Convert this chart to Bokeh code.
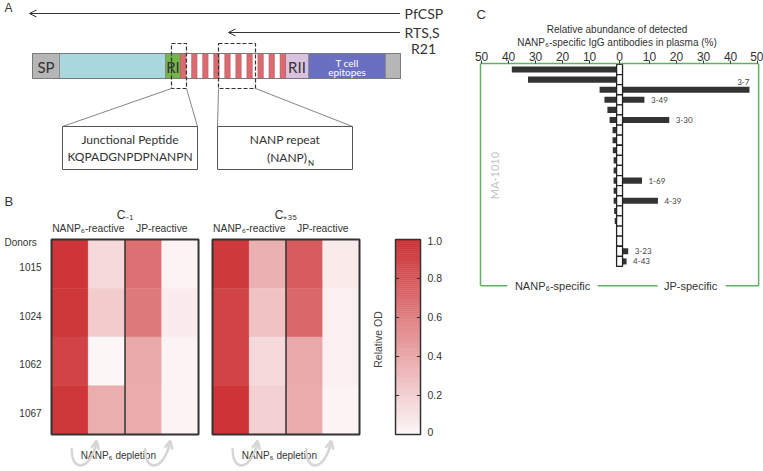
import numpy as np
from bokeh.plotting import figure
from bokeh.layouts import row, column
from bokeh.models import Range1d, FixedTicker, ColumnDataSource, Arrow, OpenHead
from bokeh.transform import linear_cmap
from bokeh.core.properties import value
from bokeh.embed import file_html
from bokeh.resources import INLINE

# ---------------- data ----------------
# Panel A: PfCSP domain schematic (lengths in schematic units)
domain_labels = ["SP", "", "RI", "", "RII", "", ""]
domain_lengths = [27, 106, 15, 105, 23, 77, 15]
domain_colors = ["#b6b6b6", "#a9d7de", "#74b54b", "#ffffff", "#d8c2df", "#6a6fc2", "#b6b6b6"]
repeat_units = 10
constructs = ["PfCSP", "RTS,S"]
construct_start = [-3, 196]

# Panel B: relative OD heatmaps
donors = ["1015", "1024", "1062", "1067"]
timepoints = ["C\u208b\u2081", "C\u208a\u2083\u2085"]
reactivities = ["NANP\u2086-reactive", "JP-reactive"]
od_c_minus1 = [[0.97, 0.15, 0.68, 0.03],
               [0.96, 0.22, 0.63, 0.06],
               [0.90, 0.01, 0.40, 0.02],
               [0.96, 0.37, 0.38, 0.03]]
od_c_plus35 = [[0.95, 0.36, 0.78, 0.07],
               [0.90, 0.27, 0.72, 0.05],
               [0.90, 0.15, 0.40, 0.05],
               [0.98, 0.20, 0.38, 0.02]]
cbar_ticks = [0.0, 0.2, 0.4, 0.6, 0.8, 1.0]
cbar_tick_labels = ["0", "0.2", "0.4", "0.6", "0.8", "1.0"]

# Panel C: relative abundance (%) per antibody row
nanp_specific = [38.8, 32.8, 6.3, 4.5, 3.4, 2.6, 1.5, 1.5, 1.4, 1.1,
                 1.1, 1.1, 1.1, 1.1, 0.9, 0.7, 0.0, 0.0, 0.0, 0.0]
jp_specific = [0.0, 0.0, 47.0, 8.1, 0.0, 17.3, 0.0, 0.0, 0.0, 0.0,
               0.0, 7.2, 0.0, 13.1, 0.0, 0.0, 0.0, 0.0, 2.1, 1.5]
jp_labels = ["", "", "3-7", "3-49", "", "3-30", "", "", "", "",
             "", "1-69", "", "4-39", "", "", "", "", "3-23", "4-43"]
axis_values = [50, 40, 30, 20, 10]

# ---------------- styles ----------------
DARK = "#333333"
GREEN = "#62b162"
ARIAL = value("Liberation Sans")
MYRIAD = value("Lato")


def lerp_palette(c0, c1, n):
    a = np.array([int(c0[i:i + 2], 16) for i in (1, 3, 5)], float)
    b = np.array([int(c1[i:i + 2], 16) for i in (1, 3, 5)], float)
    out = []
    for t in np.linspace(0, 1, n):
        c = np.round(a + (b - a) * t).astype(int)
        out.append("#%02x%02x%02x" % tuple(c))
    return out


palette = lerp_palette("#fdf8f8", "#cc3033", 256)


def clean(p):
    p.grid.visible = False
    p.outline_line_color = None
    p.background_fill_color = "white"
    p.border_fill_color = "white"


# ---------------- Panel A ----------------
pa = figure(width=470, height=190, x_range=Range1d(-32, 438), y_range=Range1d(190, 0),
            x_axis_type=None, y_axis_type=None, output_backend="svg",
            toolbar_location=None, min_border=0)
clean(pa)

ends = np.cumsum(domain_lengths).astype(float)
starts = ends - np.array(domain_lengths)
BT, BB = 53, 78
pa.quad(left=starts, right=ends, top=BT, bottom=BB, fill_color=domain_colors,
        line_color="#8a8a8a", line_width=1)
rs, rl = starts[3], domain_lengths[3]
sw = 5.5
period = (rl - sw) / (repeat_units - 1)
rlefts = rs + period * np.arange(repeat_units)
pa.quad(left=rlefts, right=rlefts + sw, top=BT, bottom=BB, fill_color="#dc6b71",
        line_color="#b05a5e", line_width=0.5)
pa.quad(left=[0], right=[ends[-1]], top=BT, bottom=BB, fill_color=None,
        line_color="#7a7a7a", line_width=1)

mids = (starts + ends) / 2
lab_idx = [i for i, l in enumerate(domain_labels) if l]
pa.text(x=[mids[i] for i in lab_idx], y=[66] * len(lab_idx), text=[domain_labels[i] for i in lab_idx],
        text_font=MYRIAD, text_font_size="15px", text_color=DARK,
        text_align="center", text_baseline="middle")
pa.text(x=[mids[5], mids[5]], y=[62, 71], text=["T cell", "epitopes"], text_font=MYRIAD,
        text_font_size="10px", text_color="white", text_align="center", text_baseline="middle")

# constructs arrows
for k, (name, st) in enumerate(zip(constructs, construct_start)):
    yy = 13 + 19 * k
    pa.add_layout(Arrow(end=OpenHead(size=7, line_color=DARK, line_width=1),
                        x_start=ends[-1] - 0.5, y_start=yy, x_end=st, y_end=yy,
                        line_color=DARK, line_width=1))
    pa.text(x=[ends[-1] + 4], y=[yy], text=[name], text_font=MYRIAD, text_font_size="14px",
            text_color=DARK, text_align="left", text_baseline="middle")
pa.text(x=[391], y=[48], text=["R21"], text_font=MYRIAD, text_font_size="14px",
        text_color=DARK, text_align="center", text_baseline="middle")

# dashed zoom boxes
dash_l = [139, 186]
dash_r = [154, 223]
pa.quad(left=dash_l, right=dash_r, top=43, bottom=88, fill_color=None,
        line_color=DARK, line_width=1.2, line_dash="4 2")
box_l = [30, 185]
box_r = [165, 320]
pa.segment(x0=[dash_l[0], dash_r[0], dash_l[1], dash_r[1]], y0=[88] * 4,
           x1=[box_l[0], box_r[0], box_l[1], box_r[1]], y1=[126] * 4,
           line_color="#666666", line_width=0.8)
pa.quad(left=box_l, right=box_r, top=126, bottom=169, fill_color="white",
        line_color="#555555", line_width=1)
bc = [(a + b) / 2 for a, b in zip(box_l, box_r)]
pa.text(x=[bc[0], bc[0], bc[1]], y=[139, 156, 139],
        text=["Junctional Peptide", "KQPADGNPDPNANPN", "NANP repeat"],
        text_font=MYRIAD, text_font_size="12px", text_color=DARK,
        text_align="center", text_baseline="middle")
pa.text(x=[bc[1] + 22], y=[157], text=["(NANP)"], text_font=MYRIAD, text_font_size="12px",
        text_color=DARK, text_align="right", text_baseline="middle")
pa.text(x=[bc[1] + 23], y=[162], text=["N"], text_font=MYRIAD, text_font_size="8px",
        text_color=DARK, text_align="left", text_baseline="middle")
pa.text(x=[-28], y=[7], text=["A"], text_font=ARIAL, text_font_size="12px",
        text_color=DARK, text_align="left", text_baseline="middle")

# ---------------- Panel B ----------------
pb = figure(width=470, height=281, x_range=Range1d(-1.388, 11.40), y_range=Range1d(4.759, -1.005),
            x_axis_type=None, y_axis_type=None, output_backend="svg",
            toolbar_location=None, min_border=0)
clean(pb)
HM_STEP = 4.38
cmap = linear_cmap("v", palette, 0, 1)
for h, (tp, mat) in enumerate(zip(timepoints, [od_c_minus1, od_c_plus35])):
    off = h * HM_STEP
    xs, ys, vs = [], [], []
    for i in range(len(donors)):
        for j in range(4):
            xs.append(off + j + 0.5)
            ys.append(i + 0.5)
            vs.append(mat[i][j])
    src = ColumnDataSource(dict(x=xs, y=ys, v=vs))
    pb.rect("x", "y", 1, 1, source=src, fill_color=cmap, line_color=cmap, line_width=0.5)
    pb.quad(left=[off], right=[off + 4], top=0, bottom=len(donors), fill_color=None,
            line_color=DARK, line_width=2)
    pb.segment(x0=[off + 2], y0=[0], x1=[off + 2], y1=[len(donors)], line_color=DARK, line_width=1.5)
    pb.text(x=[off + 2], y=[-0.51], text=[tp], text_font=ARIAL, text_font_size="12px",
            text_color=DARK, text_align="center", text_baseline="middle")
    pb.text(x=[off + 1, off + 3], y=[-0.22, -0.22], text=reactivities, text_font=ARIAL,
            text_font_size="10.3px", text_color=DARK, text_align="center", text_baseline="middle")
    pb.text(x=[off + 1.82], y=[4.43], text=["NANP\u2086 depletion"], text_font=ARIAL,
            text_font_size="10px", text_color=DARK, text_align="center", text_baseline="middle")
    for j in (0, 2):
        x0 = off + j + 0.55
        x1 = off + j + 1.23
        pb.bezier(x0=[x0], y0=[4.28], x1=[x1], y1=[4.13], cx0=[x0 - 0.02], cy0=[4.8],
                  cx1=[x1 - 0.15], cy1=[4.75], line_color="#d6d6d6", line_width=2.5)
        pb.add_layout(Arrow(end=OpenHead(size=8, line_color="#d6d6d6", line_width=2.5),
                            x_start=x1 - 0.05, y_start=4.3, x_end=x1, y_end=4.13,
                            line_color="#d6d6d6", line_width=2.5))

pb.text(x=[-1.28], y=[0.07], text=["Donors"], text_font=ARIAL, text_font_size="10px",
        text_color=DARK, text_align="left", text_baseline="middle")
pb.text(x=[-0.27] * len(donors), y=[i + 0.56 for i in range(len(donors))], text=donors,
        text_font=ARIAL, text_font_size="10px", text_color=DARK,
        text_align="right", text_baseline="middle")
pb.text(x=[-1.28], y=[-0.78], text=["B"], text_font=ARIAL, text_font_size="13px",
        text_color=DARK, text_align="left", text_baseline="middle")

# colour bar
CB_L, CB_R = 9.36, 10.04
NB = 100
edges = np.linspace(0, 1, NB + 1)
cb_src = ColumnDataSource(dict(top=4 * (1 - edges[1:]), bottom=4 * (1 - edges[:-1]),
                               v=(edges[1:] + edges[:-1]) / 2))
pb.quad(left=CB_L, right=CB_R, top="top", bottom="bottom", source=cb_src,
        fill_color=cmap, line_color=cmap, line_width=0.5)
pb.quad(left=[CB_L], right=[CB_R], top=0, bottom=4, fill_color=None, line_color=DARK, line_width=1.5)
inner = [t for t in cbar_ticks if 0 < t < 1]
pb.segment(x0=[CB_L] * len(inner) + [CB_R - 0.1] * len(inner), y0=[4 * (1 - t) for t in inner] * 2,
           x1=[CB_L + 0.1] * len(inner) + [CB_R] * len(inner), y1=[4 * (1 - t) for t in inner] * 2,
           line_color=DARK, line_width=1)
pb.text(x=[10.23] * len(cbar_ticks), y=[4 * (1 - t) + (0.04 if t == 1 else (-0.06 if t == 0 else 0)) for t in cbar_ticks],
        text=cbar_tick_labels, text_font=ARIAL, text_font_size="10.5px", text_color=DARK,
        text_align="left", text_baseline="middle")
pb.text(x=[8.87], y=[2.05], text=["Relative OD"], angle=np.pi / 2, text_font=ARIAL,
        text_font_size="10.5px", text_color="#444444", text_align="center", text_baseline="middle")

# ---------------- Panel C ----------------
GAP = 1.1
nrow = len(nanp_specific)
rows = np.arange(nrow)
pc = figure(width=293, height=471, x_range=Range1d(-55.2, 53.3), y_range=Range1d(39.8, -0.594),
            x_axis_location="above", y_axis_type=None, output_backend="svg",
            toolbar_location=None, min_border_top=63, min_border_left=0,
            min_border_right=0, min_border_bottom=0, title="C")
clean(pc)
ticks = [-(v + GAP) for v in axis_values] + [0] + [v + GAP for v in axis_values[::-1]]
labels = [str(v) for v in axis_values] + ["0"] + [str(v) for v in axis_values[::-1]]
ax = pc.xaxis[0]
ax.ticker = FixedTicker(ticks=ticks)
ax.major_label_overrides = {t: l for t, l in zip(ticks, labels)}
ax.bounds = (-51.5, 51.5)
ax.axis_line_color = GREEN
ax.axis_line_width = 1.5
ax.major_tick_line_color = DARK
ax.major_tick_out = 3
ax.major_tick_in = 0
ax.minor_tick_line_color = None
ax.major_label_text_font = "Liberation Sans"
ax.major_label_text_font_size = "12px"
ax.major_label_text_color = DARK
ax.major_label_text_line_height = 1.0
ax.major_label_standoff = 0
ax.axis_label = "Relative abundance of detected\nNANP\u2086-specific IgG antibodies in plasma (%)"
ax.axis_label_text_font = "Liberation Sans"
ax.axis_label_text_font_size = "10px"
ax.axis_label_text_font_style = "normal"
ax.axis_label_text_color = DARK
ax.axis_label_text_line_height = 1.1
ax.axis_label_standoff = 1
pc.title.text_font = "Liberation Sans"
pc.title.text_font_size = "13px"
pc.title.text_font_style = "normal"
pc.title.text_color = DARK
pc.title.text_line_height = 1.0
pc.title.offset = 6
pc.title.standoff = 0

# green box
BOX_B = 21.4
pc.segment(x0=[-51.5, 51.5, -51.5, -8.1, 39.3], y0=[-0.594, -0.594, BOX_B, BOX_B, BOX_B],
           x1=[-51.5, 51.5, -41.5, 14.1, 51.5], y1=[BOX_B, BOX_B, BOX_B, BOX_B, BOX_B],
           line_color=GREEN, line_width=1.5)
pc.text(x=[-24.8, 26.3], y=[BOX_B + 0.05] * 2, text=["NANP\u2086-specific", "JP-specific"],
        text_font=ARIAL, text_font_size="11px", text_color=DARK,
        text_align="center", text_baseline="middle")
pc.text(x=[-46.3], y=[10.5], text=["MA-1010"], angle=np.pi / 2, text_font=MYRIAD,
        text_font_size="11px", text_color="#c4c4c4", text_align="center", text_baseline="middle")

# bars
pc.quad(left=[-(GAP + v) for v in nanp_specific], right=-GAP, top=rows - 0.3, bottom=rows + 0.3,
        fill_color="#333333", line_color=None)
pc.quad(left=GAP, right=[GAP + v for v in jp_specific], top=rows - 0.3, bottom=rows + 0.3,
        fill_color="#333333", line_color=None)
pc.quad(left=-GAP, right=GAP, top=rows - 0.5, bottom=rows + 0.5, fill_color="white",
        line_color="#222222", line_width=1.3)
lab_rows = [i for i in rows if jp_labels[i]]
lx, ly, la = [], [], []
for i in lab_rows:
    if i == int(np.argmax(jp_specific)):
        lx.append(GAP + jp_specific[i]); ly.append(i - 0.75); la.append("right")
    else:
        lx.append(GAP + jp_specific[i] + 2.4); ly.append(i); la.append("left")
pc.text(x=lx, y=ly, text=[jp_labels[i] for i in lab_rows], text_align=la, text_font=MYRIAD,
        text_font_size="8px", text_color="#444444", text_baseline="middle")

layout = row(column(pa, pb), pc)
open("out.html", "w").write(file_html(layout, INLINE))
